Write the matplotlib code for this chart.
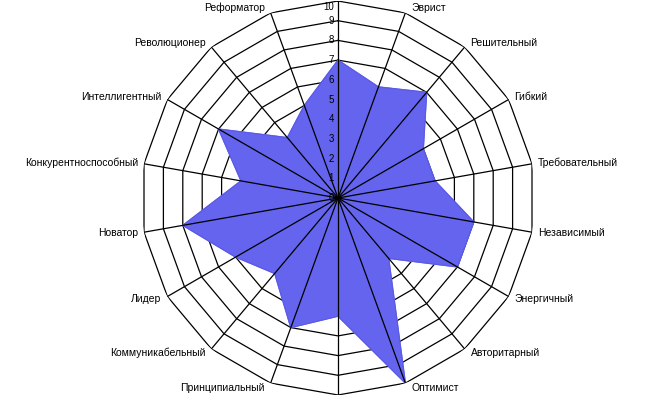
import numpy as np
import matplotlib
matplotlib.use("Agg")
import matplotlib.pyplot as plt

plt.rcParams['font.family'] = ['Liberation Sans', 'DejaVu Sans']

# Оси (по часовой стрелке от верхней), верхняя и нижняя без подписей
categories = ["", "Эврист", "Решительный", "Гибкий", "Требовательный",
              "Независимый", "Энергичный", "Авторитарный", "Оптимист", "",
              "Принципиальный", "Коммуникабельный", "Лидер", "Новатор",
              "Конкурентноспособный", "Интеллигентный", "Революционер",
              "Реформатор"]
values = [7, 6, 7, 5, 5, 7, 7, 4, 10, 6, 7, 5, 6, 8, 5, 7, 4, 5]
ticks = list(range(0, 11))

n = len(categories)
theta = np.arange(n) * 2 * np.pi / n
theta_c = np.append(theta, theta[0])

fig = plt.figure(figsize=(6.48, 4.0), dpi=100)
ax = fig.add_axes([0.2176, 0.0125, 0.608, 0.985], projection='polar')
ax.set_theta_zero_location('N')
ax.set_theta_direction(-1)
ax.set_ylim(0, 10)
ax.grid(False)
ax.set_xticks([])
ax.set_yticks([])
ax.spines['polar'].set_visible(False)
ax.patch.set_alpha(0)

# кольца сетки
for r in ticks[1:]:
    ax.plot(theta_c, [r] * (n + 1), color='black', lw=0.9, zorder=1)

# ряд данных
v = np.append(values, values[0])
ax.fill(theta_c, v, color='#6464ee', zorder=2)
ax.plot(theta_c, v, color='#5a5ae6', lw=0.8, zorder=2)

# лучи
for t in theta:
    ax.plot([t, t], [0, 10], color='black', lw=0.9, zorder=3)

# подписи шкалы
for r in ticks:
    top = r == ticks[-1]
    ax.annotate(str(r), xy=(0, r), xytext=(-4, -1 if top else 0),
                textcoords='offset pixels', ha='right',
                va='top' if top else 'center', fontsize=7, zorder=4)

# подписи категорий
for t, name in zip(theta, categories):
    if not name:
        continue
    s = np.sin(t)
    dx = 6 if s > 0 else -6
    dy = 5 * np.cos(t)
    ax.annotate(name, xy=(t, 10), xytext=(dx, dy), textcoords='offset pixels',
                ha='left' if s > 0 else 'right', va='center', fontsize=7.5,
                annotation_clip=False)

fig.savefig('out.png', dpi=100)
